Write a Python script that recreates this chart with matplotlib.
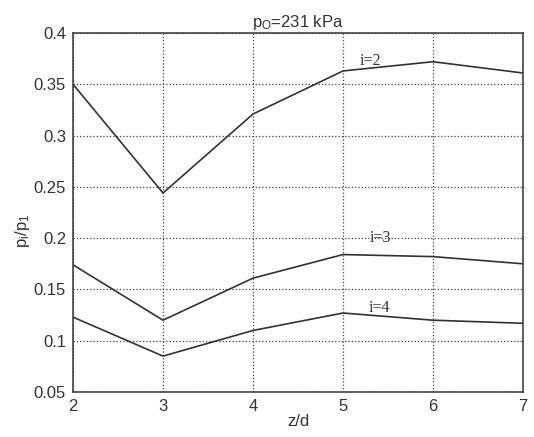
import matplotlib
matplotlib.use('Agg')
import matplotlib.pyplot as plt

plt.rcParams['font.family'] = ['Liberation Sans', 'DejaVu Sans']
plt.rcParams['mathtext.fontset'] = 'custom'
plt.rcParams['mathtext.rm'] = 'Liberation Sans'
plt.rcParams['mathtext.it'] = 'Liberation Sans'

# data
z_d = [2, 3, 4, 5, 6, 7]
ratio_i2 = [0.350, 0.244, 0.321, 0.363, 0.372, 0.361]
ratio_i3 = [0.174, 0.120, 0.161, 0.184, 0.182, 0.175]
ratio_i4 = [0.123, 0.085, 0.110, 0.127, 0.120, 0.117]
curve_labels = ['i=2', 'i=3', 'i=4']
label_pos = [(5.31, 0.373), (5.41, 0.200), (5.41, 0.132)]
yticks = [0.05, 0.1, 0.15, 0.2, 0.25, 0.3, 0.35, 0.4]
ytick_labels = ['0.05', '0.1', '0.15', '0.2', '0.25', '0.3', '0.35', '0.4']

fig = plt.figure(figsize=(5.34, 4.37), dpi=100, facecolor='white')
ax = fig.add_axes([73 / 534, 1 - 392 / 437, 450 / 534, 359 / 437])

for ys in (ratio_i2, ratio_i3, ratio_i4):
    ax.plot(z_d, ys, color='#333333', linewidth=1.2)

for lab, (x, y) in zip(curve_labels, label_pos):
    ax.text(x, y, lab, fontsize=11.5, family=['Liberation Serif'], color='#333333',
            ha='center', va='center')

ax.set_xlim(2, 7)
ax.set_ylim(0.05, 0.4)
ax.set_xticks(z_d)
ax.set_yticks(yticks)
ax.set_yticklabels(ytick_labels)
ax.tick_params(labelsize=12, direction='in', length=0, pad=5, colors='#333333')
ax.grid(True, linestyle=':', color='#444444', linewidth=0.9)
for sp in ax.spines.values():
    sp.set_color('#444444')
    sp.set_linewidth(1.2)

ax.set_xlabel('z/d', fontsize=12, color='#333333', labelpad=0)
ax.set_ylabel(r'p$_\mathrm{i}$/p$_\mathrm{1}$', fontsize=12, color='#333333')
ax.yaxis.set_label_coords(-0.09, 0.45)
ax.set_title(r'p$_\mathrm{O}$=231 kPa', fontsize=12, color='#333333', pad=4)

fig.savefig('out.png', dpi=100, facecolor='white')
